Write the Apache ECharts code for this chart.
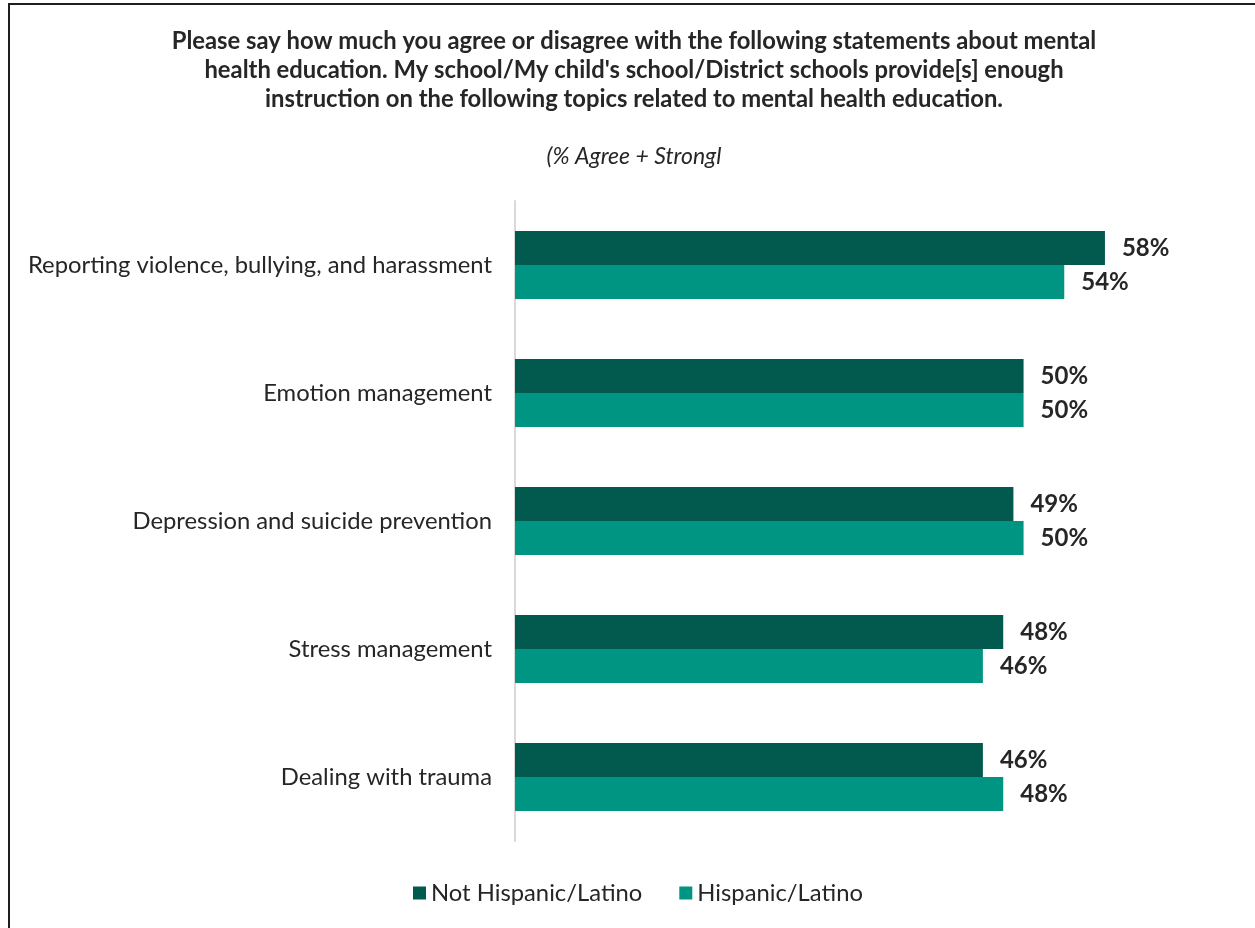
<!DOCTYPE html>
<html>
<head>
<meta charset="utf-8">
<script src="https://cdn.jsdelivr.net/npm/echarts@6/dist/echarts.min.js"></script>
<style>
  html, body { margin: 0; padding: 0; background: #fff; }
  #chart { width: 1255px; height: 928px; }
  #frame {
    position: absolute; left: 8px; top: 3px; right: -4px; bottom: -4px;
    border-left: 2px solid #1e1e1e; border-top: 2px solid #1e1e1e;
    pointer-events: none;
  }
</style>
</head>
<body>
<div id="chart"></div>
<div id="frame"></div>
<script>
// Topics shown down the category axis, top to bottom
const topics = [
  'Reporting violence, bullying, and harassment',
  'Emotion management',
  'Depression and suicide prevention',
  'Stress management',
  'Dealing with trauma'
];
// % Agree + Strongly agree by group
const notHispanic = [58, 50, 49, 48, 46];
const hispanic = [54, 50, 50, 46, 48];
const seriesNames = ['Not Hispanic/Latino', 'Hispanic/Latino'];

const font = 'Lato, "Open Sans", sans-serif';
const textColor = '#262626';

const chart = echarts.init(document.getElementById('chart'), null, { renderer: 'canvas' });

const valueLabel = {
  show: true,
  position: 'right',
  distance: 17,
  formatter: p => p.value + '%',
  fontFamily: font,
  fontSize: 24,
  fontWeight: 'bold',
  color: textColor
};

chart.setOption({
  animation: false,
  title: [
    {
      text: 'Please say how much you agree or disagree with the following statements about mental\nhealth education. My school/My child\'s school/District schools provide[s] enough\ninstruction on the following topics related to mental health education.',
      left: 629, top: 22, textAlign: 'center',
      textStyle: { fontFamily: font, fontSize: 23.8, fontWeight: 'bold', color: textColor, lineHeight: 29 }
    },
    {
      text: '(% Agree + Strongl',
      left: 629, top: 140, textAlign: 'center',
      textStyle: { fontFamily: font, fontSize: 23, fontStyle: 'italic', fontWeight: 'normal', color: textColor }
    }
  ],
  legend: {
    data: seriesNames,
    left: 408, top: 876,
    icon: 'rect', itemWidth: 13, itemHeight: 13, itemGap: 37,
    textStyle: { fontFamily: font, fontSize: 23.8, color: textColor }
  },
  grid: { left: 515, top: 201, width: 712, height: 640, containLabel: false },
  xAxis: {
    type: 'value', min: 0, max: 70,
    show: false
  },
  yAxis: {
    type: 'category', data: topics, inverse: true,
    axisLine: { show: true, lineStyle: { color: '#d9d9d9', width: 2 } },
    axisTick: { show: false },
    axisLabel: { margin: 23, fontFamily: font, fontSize: 23.8, color: textColor }
  },
  series: [
    {
      name: seriesNames[0], type: 'bar', data: notHispanic,
      barWidth: 34, barGap: '0%',
      itemStyle: { color: '#02594e' },
      label: valueLabel
    },
    {
      name: seriesNames[1], type: 'bar', data: hispanic,
      barWidth: 34, barGap: '0%',
      itemStyle: { color: '#009482' },
      label: valueLabel
    }
  ]
});
</script>
</body>
</html>
